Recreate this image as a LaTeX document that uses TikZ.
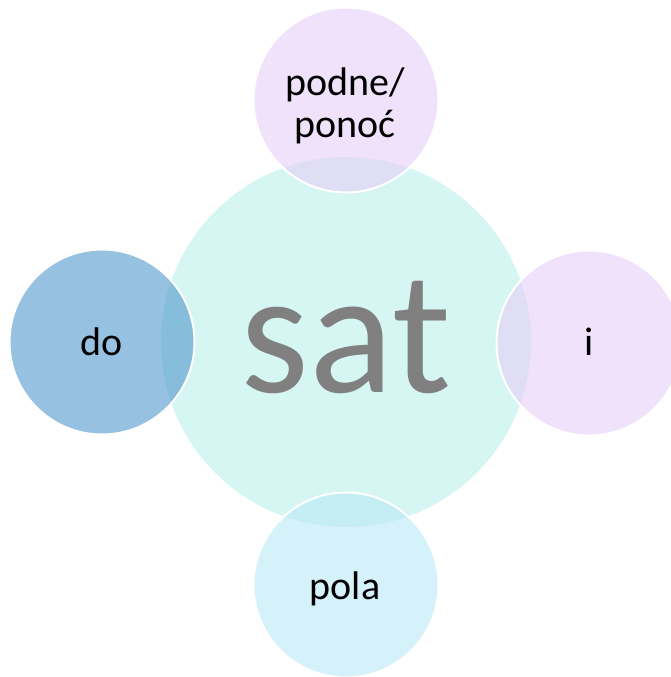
\documentclass[tikz,border=0pt]{standalone}
\usepackage{fontspec}
\setmainfont{Carlito}
\definecolor{hubfill}{RGB}{214,246,244}
\definecolor{blueleaf}{RGB}{80,152,203}
\definecolor{lilacleaf}{RGB}{230,207,247}
\definecolor{skyleaf}{RGB}{185,232,245}
\tikzset{
  hub/.style={circle, fill=hubfill, minimum size=370pt, inner sep=0pt},
  leaf/.style={circle, draw=white, line width=2pt, fill opacity=0.6, text opacity=1, minimum size=185pt, inner sep=0pt},
  word/.style={anchor=base, font=\fontsize{40}{35}\selectfont, inner sep=0pt}
}

\begin{document}
\begin{tikzpicture}[x=1pt, y=-1pt]
\useasboundingbox (0,0) rectangle (670,677);
\node[hub] (sat) at (346, 342) {};
\node[leaf, fill=lilacleaf] (top) at (346, 100) {};
\node[leaf, fill=blueleaf] (left) at (102, 342) {};
\node[leaf, fill=lilacleaf] (right) at (589, 343) {};
\node[leaf, fill=skyleaf] (bottom) at (346, 585) {};
\node[anchor=base, inner sep=0pt, text=black!50, font=\fontsize{176}{176}\selectfont] (satw) at (346, 392) {sat};
\node[word] (topw1) at (345, 95) {podne/};
\node[word] (topw2) at (345, 137) {ponoć};
\node[word] (leftw) at (102, 355) {do};
\node[word] (rightw) at (589, 355) {i};
\node[word] (bottomw) at (345, 599) {pola};
\end{tikzpicture}
\end{document}
